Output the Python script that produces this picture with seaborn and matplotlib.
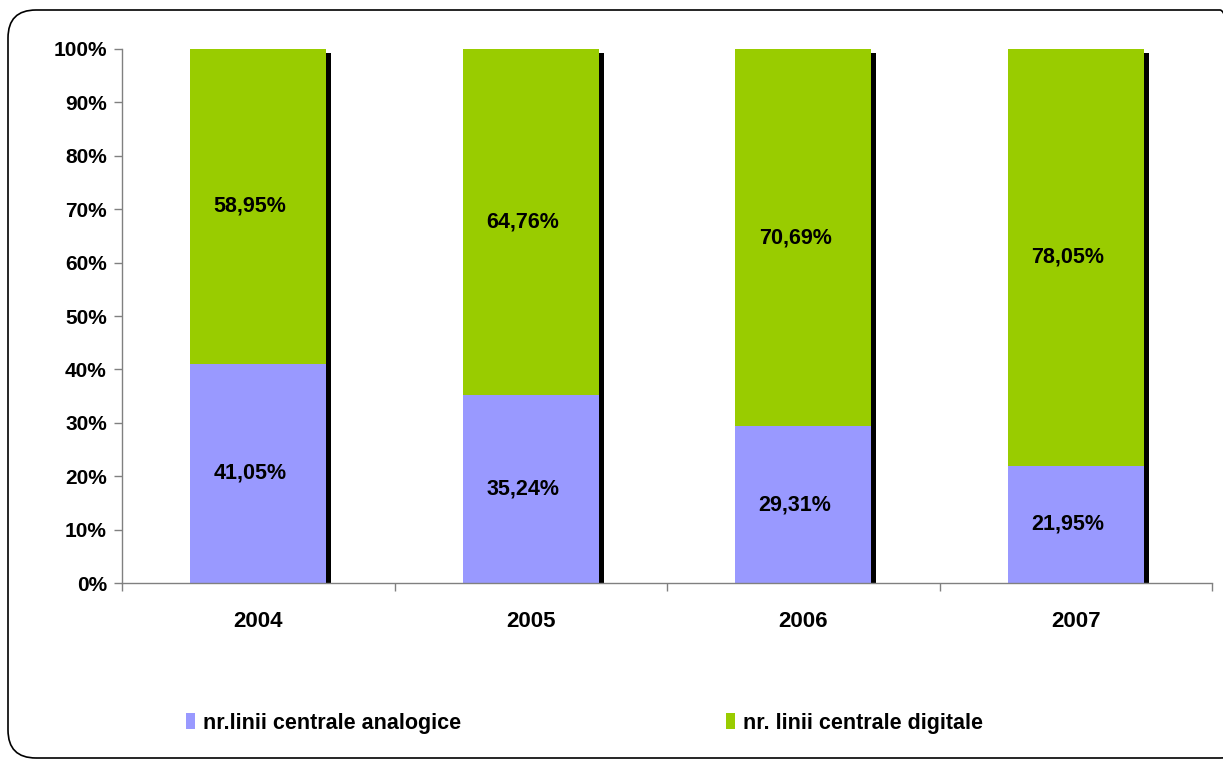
# plot.py
import pandas as pd
import numpy as np
import seaborn as sns
import matplotlib.pyplot as plt
from matplotlib.patches import Patch, FancyBboxPatch
from matplotlib.transforms import ScaledTranslation

# data
years = ['2004', '2005', '2006', '2007']
analog = [41.05, 35.24, 29.31, 21.95]
digital = [58.95, 64.76, 70.69, 78.05]
series_names = ['nr.linii centrale analogice', 'nr. linii centrale digitale']

analog_color = '#9999FF'
digital_color = '#99CC00'

df = pd.DataFrame({'year': years, 'analog': analog, 'digital': digital})
df['total'] = df['analog'] + df['digital']

sns.set_style('white')
plt.rcParams['font.family'] = ['Liberation Sans', 'DejaVu Sans']
plt.rcParams['font.weight'] = 'bold'
plt.rcParams['text.color'] = 'black'
plt.rcParams['xtick.color'] = '#808080'
plt.rcParams['ytick.color'] = '#808080'
plt.rcParams['xtick.labelcolor'] = 'black'
plt.rcParams['ytick.labelcolor'] = 'black'

fig = plt.figure(figsize=(12.23, 7.62), dpi=100)
ax = fig.add_axes([0.0998, 0.2349, 0.8913, 0.7008])

# rounded outer frame
frame = FancyBboxPatch((0.08, 0.04), 12.4, 7.48,
                       boxstyle='round,pad=0,rounding_size=0.28',
                       transform=fig.dpi_scale_trans, facecolor='none',
                       edgecolor='black', linewidth=1.2, zorder=0)
fig.patches.append(frame)

# black shadow behind the bars
sns.barplot(data=df, x='year', y='total', color='black', width=0.5,
            saturation=1, linewidth=0, ax=ax)
shift = ScaledTranslation(5 / 100, -4 / 100, fig.dpi_scale_trans)
for p in ax.patches:
    p.set_transform(ax.transData + shift)

# stacked bars: total (green) then analog (purple) on top
sns.barplot(data=df, x='year', y='total', color=digital_color, width=0.5,
            saturation=1, linewidth=0, ax=ax)
sns.barplot(data=df, x='year', y='analog', color=analog_color, width=0.5,
            saturation=1, linewidth=0, ax=ax)

for i, yr in enumerate(years):
    a = df['analog'][i]
    d = df['digital'][i]
    ax.text(i - 0.03, a / 2, f'{a:.2f}%'.replace('.', ','), ha='center',
            va='center', fontsize=15.5, fontweight='bold', color='black')
    ax.text(i - 0.03, a + d / 2, f'{d:.2f}%'.replace('.', ','), ha='center',
            va='center', fontsize=15.5, fontweight='bold', color='black')

ax.set_ylim(0, 100)
ax.set_xlim(-0.5, 3.5)
ax.set_yticks(np.arange(0, 101, 10))
ax.set_yticklabels([f'{v}%' for v in range(0, 101, 10)], fontsize=15,
                   fontweight='bold')
ax.set_xticks(range(4))
ax.set_xticklabels(years, fontsize=16, fontweight='bold')
ax.set_xticks(np.arange(-0.5, 4, 1), minor=True)
ax.tick_params(axis='x', which='major', bottom=False, length=0, pad=20)
ax.tick_params(axis='x', which='minor', bottom=True, length=6, width=1,
               direction='out')
ax.tick_params(axis='y', left=True, length=6, width=1, direction='out',
               pad=5)
ax.set_xlabel('')
ax.set_ylabel('')
for s in ['top', 'right']:
    ax.spines[s].set_visible(False)
for s in ['left', 'bottom']:
    ax.spines[s].set_color('#808080')
    ax.spines[s].set_linewidth(1)

handles = [Patch(facecolor=analog_color, edgecolor='none'),
           Patch(facecolor=digital_color, edgecolor='none')]
fig.legend(handles, series_names, ncol=2, loc='center',
           bbox_to_anchor=(0.478, 0.051), frameon=False,
           prop={'size': 15.5, 'weight': 'bold'}, handlelength=0.4,
           handleheight=0.8, handletextpad=0.4, columnspacing=12.3)

fig.savefig('out.png', dpi=100)
